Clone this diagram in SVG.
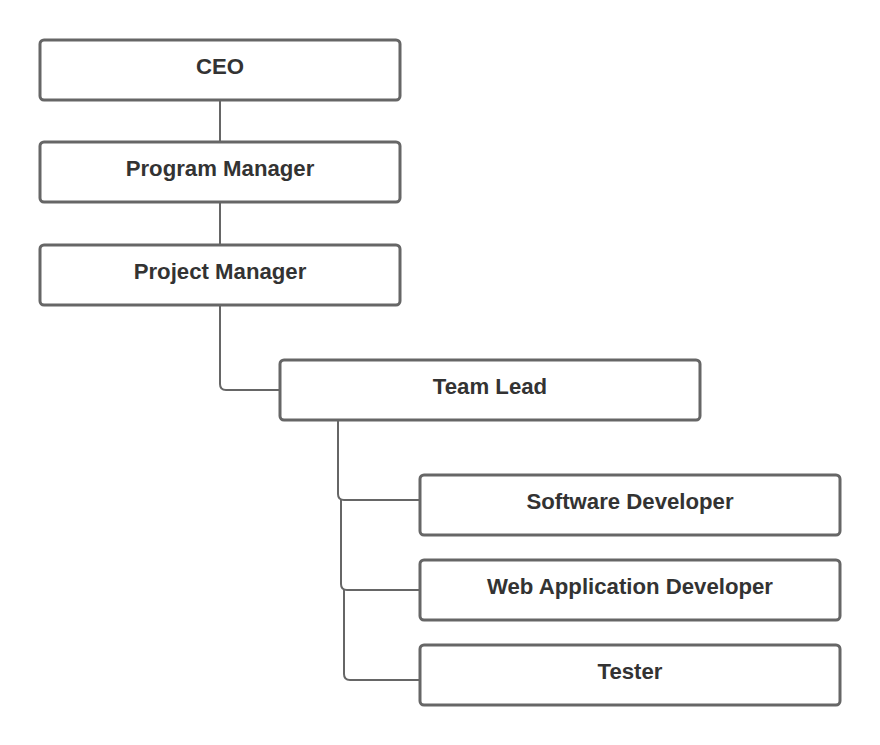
<svg xmlns="http://www.w3.org/2000/svg" width="880" height="745" viewBox="0 0 880 745">
<style>
.box{fill:#fff;stroke:#666;stroke-width:3}
.lbl{font-family:"Liberation Sans",Arial,sans-serif;font-weight:bold;font-size:22.2px;fill:#333;text-anchor:middle}
.con{fill:none;stroke:#666;stroke-width:2}
</style>
<rect width="880" height="745" fill="#fff"/>
<g id="connectors">
<path class="con" d="M220 100V142"/>
<path class="con" d="M220 202V245"/>
<path class="con" d="M220 305V384Q220 390 226 390H280"/>
<path class="con" d="M338 420V494Q338 500 344 500H420"/>
<path class="con" d="M341 500V584Q341 590 347 590H420"/>
<path class="con" d="M344 590V674Q344 680 350 680H420"/>
</g>
<g id="ceo"><rect class="box" x="40" y="40" width="360" height="60" rx="4"/><text class="lbl" x="220" y="74">CEO</text></g>
<g id="program-manager"><rect class="box" x="40" y="142" width="360" height="60" rx="4"/><text class="lbl" x="220" y="176">Program Manager</text></g>
<g id="project-manager"><rect class="box" x="40" y="245" width="360" height="60" rx="4"/><text class="lbl" x="220" y="279">Project Manager</text></g>
<g id="team-lead"><rect class="box" x="280" y="360" width="420" height="60" rx="4"/><text class="lbl" x="490" y="394">Team Lead</text></g>
<g id="software-developer"><rect class="box" x="420" y="475" width="420" height="60" rx="4"/><text class="lbl" x="630" y="509">Software Developer</text></g>
<g id="web-application-developer"><rect class="box" x="420" y="560" width="420" height="60" rx="4"/><text class="lbl" x="630" y="594">Web Application Developer</text></g>
<g id="tester"><rect class="box" x="420" y="645" width="420" height="60" rx="4"/><text class="lbl" x="630" y="679">Tester</text></g>
</svg>
